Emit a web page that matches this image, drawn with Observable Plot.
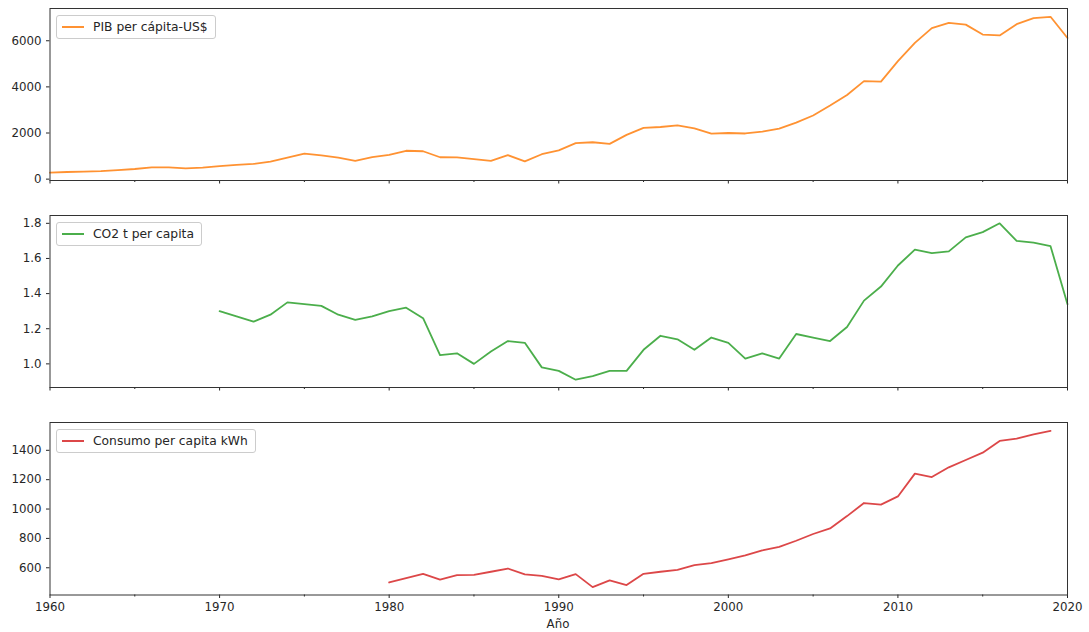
<!DOCTYPE html>
<html>
<head>
<meta charset="utf-8">
<script src="https://cdn.jsdelivr.net/npm/d3@7"></script>
<script src="https://cdn.jsdelivr.net/npm/@observablehq/plot@0.6"></script>
<style>
  html, body { margin: 0; padding: 0; background: #fff; }
  #chart { position: relative; width: 1089px; height: 632px; font-family: "DejaVu Sans", sans-serif; color: #262626; }
  .panel { position: absolute; left: 0; }
  .legend { position: absolute; left: 56px; height: 24px; box-sizing: border-box; border: 1px solid #cccccc; border-radius: 3px; background: rgba(255,255,255,0.8); display: flex; align-items: center; padding: 0 7px 0 5px; font-size: 12.3px; white-space: nowrap; }
  .legend .swatch { width: 22px; height: 0; border-top: 2px solid; margin-right: 9px; }
  #xlabel { position: absolute; left: 0; width: 1116px; text-align: center; top: 617px; font-size: 11.8px; }
</style>
</head>
<body>
<div id="chart"></div>
<script>
// ---- Data ----
const pibYears = [1960,1961,1962,1963,1964,1965,1966,1967,1968,1969,1970,1971,1972,1973,1974,1975,1976,1977,1978,1979,1980,1981,1982,1983,1984,1985,1986,1987,1988,1989,1990,1991,1992,1993,1994,1995,1996,1997,1998,1999,2000,2001,2002,2003,2004,2005,2006,2007,2008,2009,2010,2011,2012,2013,2014,2015,2016,2017,2018,2019,2020];
const pibValues = [280,310,330,350,390,440,510,510,470,500,560,620,660,760,930,1110,1030,930,790,950,1050,1230,1210,950,940,870,790,1040,770,1080,1250,1560,1600,1530,1920,2220,2260,2330,2200,1970,2000,1980,2060,2190,2450,2760,3190,3650,4250,4230,5120,5910,6550,6780,6700,6270,6230,6720,6980,7040,6120];

const co2Years = [1970,1971,1972,1973,1974,1975,1976,1977,1978,1979,1980,1981,1982,1983,1984,1985,1986,1987,1988,1989,1990,1991,1992,1993,1994,1995,1996,1997,1998,1999,2000,2001,2002,2003,2004,2005,2006,2007,2008,2009,2010,2011,2012,2013,2014,2015,2016,2017,2018,2019,2020];
const co2Values = [1.30,1.27,1.24,1.28,1.35,1.34,1.33,1.28,1.25,1.27,1.30,1.32,1.26,1.05,1.06,1.00,1.07,1.13,1.12,0.98,0.96,0.91,0.93,0.96,0.96,1.08,1.16,1.14,1.08,1.15,1.12,1.03,1.06,1.03,1.17,1.15,1.13,1.21,1.36,1.44,1.56,1.65,1.63,1.64,1.72,1.75,1.80,1.70,1.69,1.67,1.34];

const consumoYears = [1980,1981,1982,1983,1984,1985,1986,1987,1988,1989,1990,1991,1992,1993,1994,1995,1996,1997,1998,1999,2000,2001,2002,2003,2004,2005,2006,2007,2008,2009,2010,2011,2012,2013,2014,2015,2016,2017,2018,2019];
const consumoValues = [500,530,559,520,550,552,573,595,555,545,521,557,468,514,482,559,573,586,618,632,657,684,718,743,784,830,868,952,1041,1030,1086,1241,1218,1284,1334,1384,1464,1480,1509,1532];

const xMajorTicks = [1960,1970,1980,1990,2000,2010,2020];
const xMinorTicks = [1965,1975,1985,1995,2005,2015];
const pibTicks = [0,2000,4000,6000];
const co2Ticks = [1.0,1.2,1.4,1.6,1.8];
const consumoTicks = [600,800,1000,1200,1400];

const seriesNames = ["PIB per cápita-US$", "CO2 t per capita", "Consumo per capita kWh"];
const seriesColors = ["#ff7f0e", "#2ca02c", "#d62728"];

// ---- Build ----
const toRows = (xs, ys) => xs.map((x, i) => ({year: x, value: ys[i]}));
const panels = [
  {rows: toRows(pibYears, pibValues), domain: [-59, 7399], ticks: pibTicks, fmt: d3.format("d"), top: 0, height: 207, mb: 27, labels: false},
  {rows: toRows(co2Years, co2Values), domain: [0.8655, 1.8445], ticks: co2Ticks, fmt: d3.format(".1f"), top: 207, height: 208, mb: 28, labels: false},
  {rows: toRows(consumoYears, consumoValues), domain: [414.6, 1589.4], ticks: consumoTicks, fmt: d3.format("d"), top: 414, height: 218, mb: 37.5, labels: true}
];

const chart = document.getElementById("chart");
const ink = "#262626";
const blank = () => "";

panels.forEach((p, i) => {
  const plot = Plot.plot({
    width: 1089,
    height: p.height,
    marginTop: 8,
    marginBottom: p.mb,
    marginLeft: 49.5,
    marginRight: 22,
    style: {fontFamily: "DejaVu Sans, sans-serif", fontSize: "11.8px", color: ink, background: "transparent", overflow: "visible"},
    x: {domain: [1960, 2020], range: [49.5, 1067]},
    y: {domain: p.domain},
    marks: [
      Plot.axisX({ticks: xMajorTicks, tickSize: 3.5, tickPadding: 4, tickFormat: p.labels ? d3.format("d") : blank, label: null, stroke: ink, fill: ink}),
      Plot.axisX({ticks: xMinorTicks, tickSize: 2, tickFormat: blank, label: null, stroke: ink}),
      Plot.axisY({ticks: p.ticks, tickSize: 3.5, tickPadding: 5, tickFormat: p.fmt, label: null, stroke: ink, fill: ink}),
      Plot.line(p.rows, {x: "year", y: "value", stroke: seriesColors[i], strokeOpacity: 0.85, strokeWidth: 1.8}),
      Plot.frame({stroke: "#333333", strokeWidth: 1})
    ]
  });
  plot.classList.add("panel");
  plot.style.top = p.top + "px";
  chart.appendChild(plot);

  const leg = document.createElement("div");
  leg.className = "legend";
  leg.style.top = (p.top + 15) + "px";
  const sw = document.createElement("span");
  sw.className = "swatch";
  sw.style.borderTopColor = seriesColors[i];
  sw.style.opacity = 0.85;
  const tx = document.createElement("span");
  tx.textContent = seriesNames[i];
  leg.appendChild(sw);
  leg.appendChild(tx);
  chart.appendChild(leg);
});

const xl = document.createElement("div");
xl.id = "xlabel";
xl.textContent = "Año";
chart.appendChild(xl);
</script>
</body>
</html>
